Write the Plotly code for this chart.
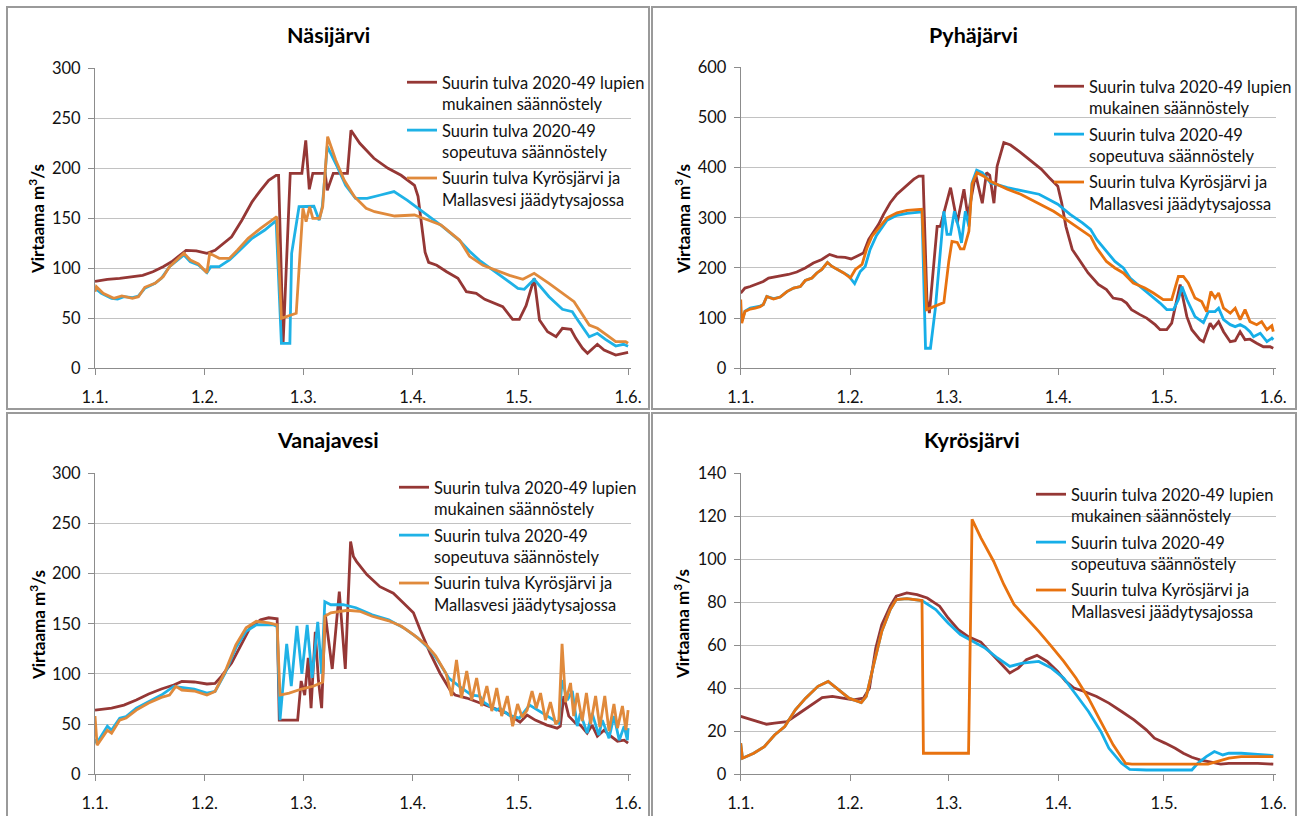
import plotly.graph_objects as go

# ---------------- data (day offset from 1 January, flow m3/s) ----------------
MONTH_STARTS = [0, 31, 59, 90, 120, 151]
MONTH_LABELS = ["1.1.", "1.2.", "1.3.", "1.4.", "1.5.", "1.6."]

SERIES_NAMES = [
    "Suurin tulva 2020-49 lupien<br>mukainen säännöstely",
    "Suurin tulva 2020-49<br>sopeutuva säännöstely",
    "Suurin tulva Kyrösjärvi ja<br>Mallasvesi jäädytysajossa",
]
PANEL_TITLES = ["Näsijärvi", "Pyhäjärvi", "Vanajavesi", "Kyrösjärvi"]

# Näsijärvi
NAS_LUPA_X = [0, 3.5, 7, 10.6, 13.5, 16.4, 19.3, 21.7, 24, 25.8, 28.7, 31.7, 34, 36.3, 38.7, 41.6, 44.5, 46.9, 49.2, 51.3, 52, 53.3, 55.3, 58.6, 59.7, 60.7, 61.7, 65.2, 65.8, 67.5, 71.5, 72.5, 75, 79, 83, 86.7, 90.5, 91.5, 92.7, 93.5, 94.5, 96.8, 99.6, 102.8, 105.2, 108, 110.4, 112.7, 115.5, 118.3, 120.2, 122.1, 124.4, 125.9, 128.2, 130.6, 132.4, 134.8, 136.2, 138.1, 139.5, 142.3, 144.2, 147.5, 149.3, 151]
NAS_LUPA_Y = [87, 89, 90, 91.5, 93, 96.5, 101.5, 106.5, 113, 118, 117.5, 115, 118, 125, 131.5, 148, 166.5, 178, 188, 193, 193, 26, 195, 195, 228, 179, 195, 195, 178, 195, 195, 238, 225, 210, 200, 193, 183, 172, 140, 116, 106, 103, 96.6, 90, 76.6, 75, 69, 65.6, 61.6, 49, 49, 62.6, 90, 48.3, 36.6, 31.6, 40, 39, 30, 20, 15, 24, 18.3, 13.3, 15, 16]
NAS_SOPE_X = [0, 1.8, 4.7, 6.4, 8.2, 10.6, 12.3, 14.1, 17, 18.8, 21.1, 25.2, 27, 29.3, 31.7, 32.8, 35.2, 38.1, 41, 44.5, 48.1, 51.3, 52.8, 55.2, 55.7, 57.8, 62, 63.5, 64.4, 65.8, 68.6, 71, 73.8, 77.1, 80.9, 84.7, 88.5, 94.1, 98.5, 103.2, 106.1, 108.9, 112.7, 116.5, 119.8, 121.6, 124.4, 128.6, 132.4, 135.2, 136.2, 140, 142.3, 144.6, 147.5, 149.7, 151]
NAS_SOPE_Y = [80, 75, 70, 69.3, 71.6, 70.6, 72.3, 80, 85, 90, 101.6, 113.3, 106.6, 103.3, 95.6, 101.6, 101.6, 108.3, 118, 130, 138.3, 147.6, 25, 25, 115, 161.6, 162, 148, 162, 222, 201.6, 183, 170, 170, 173.3, 176.7, 168, 153, 141.6, 128, 117, 108, 98, 88, 80, 79, 89, 71.6, 59, 56.6, 51, 31.6, 35, 29, 22.3, 24, 22]
NAS_JAAD_X = [0, 0.4, 2.3, 5.3, 7.6, 10.6, 12.3, 14.1, 17, 19.3, 21.1, 25.2, 27, 29.3, 31.7, 32.5, 35.2, 38.1, 40.4, 43.4, 46.9, 51.5, 52.8, 57, 58.9, 59.8, 60.8, 61.7, 63.6, 64.5, 65.9, 68.2, 70.6, 73.5, 76.8, 79.2, 84.9, 90.5, 94.3, 98, 103.3, 106.1, 109.9, 113.6, 117.4, 121.2, 124.4, 128.6, 132.4, 135.7, 140, 142.3, 145.1, 147.5, 150.3, 151]
NAS_JAAD_Y = [76.6, 81.6, 75, 70, 72.3, 70, 71.6, 81, 85, 91.6, 101.6, 115, 108.3, 104.3, 95.6, 115, 110, 110, 118.3, 130, 140, 151.6, 50, 55, 160, 146.6, 161.6, 150, 150, 161.6, 231.6, 208, 188, 171.6, 160, 156.6, 152.3, 153.3, 148.3, 143.3, 128, 112, 103, 98, 93, 89, 95, 85, 75, 66.6, 43.3, 40, 33, 26.6, 26.6, 25]

# Pyhäjärvi
PYH_LUPA_X = [0, 1.2, 2.7, 5, 6.4, 7.9, 10.2, 13.5, 15.9, 18.3, 20.6, 23, 25.2, 27.3, 29.6, 31.3, 32.8, 34.8, 36.3, 37.7, 39.1, 40.5, 42.4, 44.3, 46.7, 49.1, 50.5, 51.7, 52.8, 53.5, 55.7, 56.6, 59.5, 61.4, 63.3, 64.4, 66.6, 68.5, 69.7, 70.6, 71.8, 72.7, 74.6, 76.5, 79.4, 82.9, 85.2, 87.5, 89.9, 91, 92.2, 94, 96.2, 98.5, 101.4, 103.7, 105.6, 108, 109.4, 110.8, 113.2, 115.1, 117.5, 118.9, 120.8, 122.2, 124.6, 126.5, 127.9, 130.2, 131.2, 133.1, 134, 135.5, 136.9, 138.8, 140.2, 141.6, 143, 144.4, 146.3, 148.2, 150.1, 151]
PYH_LUPA_Y = [150, 160, 163, 170, 173, 180, 183, 187, 192, 200, 210, 217, 227, 222, 221, 218, 223, 230, 257, 273, 287, 307, 330, 347, 363, 377, 383, 383, 137, 110, 283, 283, 360, 290, 357, 303, 387, 329, 390, 385, 329, 403, 450, 445, 430, 410, 397, 380, 363, 330, 283, 237, 213, 190, 167, 157, 140, 137, 130, 117, 107, 100, 87, 77, 77, 90, 167, 103, 77, 57, 53, 90, 80, 93, 73, 53, 55, 73, 57, 58, 50, 43, 43, 40]
PYH_SOPE_X = [0, 0.4, 1.2, 2.7, 4.1, 5.5, 6.4, 7.4, 9.3, 11.2, 13.1, 15, 16.9, 18.3, 20.2, 21.6, 23, 24.6, 25.9, 27.3, 29.2, 30.5, 32.3, 33.9, 35.3, 36.7, 38.5, 41.5, 44.3, 47.2, 51.4, 52.4, 53.8, 55.2, 57.6, 58.5, 59.5, 60.6, 61.8, 62.6, 63.7, 64.7, 65.6, 66.9, 68.5, 70.8, 75.6, 79.4, 82.2, 84.6, 89.9, 93.4, 96.9, 99.2, 100.9, 103.3, 106.1, 108.5, 110.4, 113.2, 116, 118.9, 120.8, 122.7, 124.1, 125.1, 126.5, 128.8, 131.2, 132.6, 134.5, 135.5, 136.9, 138.8, 140.2, 141.6, 143, 144.4, 145.4, 147.3, 149.2, 150.6, 151]
PYH_SOPE_Y = [112, 95, 114, 120, 122, 124, 127, 143, 139, 142, 153, 160, 163, 175, 180, 190, 197, 211, 203, 197, 190, 185, 169, 193, 203, 237, 265, 295, 305, 309, 312, 40, 40, 120, 313, 267, 267, 313, 280, 250, 313, 283, 370, 395, 390, 370, 360, 355, 351, 347, 327, 307, 290, 277, 257, 236, 213, 200, 180, 163, 147, 130, 117, 117, 137, 163, 137, 103, 91, 113, 113, 120, 97, 87, 83, 87, 82, 73, 63, 70, 53, 60, 57]
PYH_JAAD_X = [0, 0.3, 1.2, 2.7, 4.1, 5.5, 6.4, 7.4, 9.3, 11.2, 13.1, 15, 16.9, 18.3, 20.2, 21.6, 23, 24.6, 25.9, 27.3, 29.2, 31.1, 32.5, 34.4, 35.8, 37.2, 39.1, 41.5, 44.3, 47.2, 51.4, 52.7, 57.6, 59, 59.9, 61.4, 62.3, 63.3, 64.7, 65.6, 67, 68.9, 70.8, 72.7, 75.6, 79.4, 84, 88.7, 92.2, 95.7, 99.2, 100.9, 103.7, 106.1, 108.5, 111.3, 114.6, 117, 119.8, 122.2, 124.1, 125.5, 126.9, 128.8, 130.7, 132.1, 133.3, 134.5, 135.5, 136.9, 138.8, 140.2, 141.6, 143, 144.4, 146.3, 147.7, 149.2, 150.6, 151]
PYH_JAAD_Y = [137, 90, 113, 118, 120, 123, 127, 143, 138, 142, 153, 160, 163, 175, 180, 190, 197, 211, 203, 197, 190, 180, 197, 207, 240, 263, 280, 300, 310, 315, 317, 117, 131, 213, 253, 251, 238, 238, 273, 367, 390, 383, 373, 367, 357, 347, 330, 313, 297, 280, 263, 240, 213, 200, 190, 170, 160, 150, 137, 137, 183, 183, 170, 140, 133, 113, 153, 140, 150, 120, 110, 120, 97, 117, 93, 87, 93, 77, 85, 73]

# Vanajavesi
VAN_LUPA_X = [0, 4.7, 8.2, 11.7, 15.2, 18.8, 22.3, 24.6, 28.1, 31.7, 34, 35.8, 38.7, 41.6, 43.9, 46.9, 49.2, 51.6, 52.2, 57.4, 58.4, 59.4, 60.4, 61.2, 62.4, 63.3, 64.2, 65.2, 67.2, 69.2, 70.9, 72.4, 73.2, 74.1, 77, 80.7, 84.5, 87.3, 90.2, 92.1, 94.9, 97.7, 100.6, 102, 105.3, 109.1, 112.8, 116.6, 120.4, 122.4, 124.7, 128, 130.9, 131.8, 132.8, 134.2, 136.1, 137.5, 139.4, 140.8, 142.3, 144.2, 146.1, 148, 149.9, 151]
VAN_LUPA_Y = [64, 66, 69, 74, 80, 85, 89, 92.6, 92, 90, 90.6, 97.6, 111, 131, 146, 154, 156, 155, 54, 54, 93, 79, 116, 66, 142, 93, 66, 160, 105, 182, 105, 232, 217, 212, 199, 187, 180.5, 171, 161, 144, 121, 101, 84, 79, 76, 71, 66, 61, 52, 59, 54, 49, 46, 48, 78, 58, 51, 49, 41, 49, 38, 44, 38, 33, 34, 31]
VAN_SOPE_X = [0, 0.5, 3.5, 4.7, 7, 8.8, 11.7, 15.2, 18.8, 22.3, 24.6, 28.1, 31.7, 34, 36.9, 39.9, 42.8, 45.7, 50.4, 51.6, 52.4, 54.3, 55.6, 57.2, 58.6, 60.1, 61.5, 63.1, 64.2, 65.1, 66.8, 70.3, 73.9, 76.2, 78.5, 83.2, 87.9, 91.4, 95, 97.3, 100.2, 103.2, 106.7, 109, 110.2, 113.7, 114.7, 117.2, 120.2, 123.1, 125.4, 127.8, 130.1, 131.4, 132.3, 133.8, 135.2, 136.6, 137.5, 139.4, 140.8, 142.7, 143.7, 145.6, 147, 148.5, 149.9, 150.8, 151]
VAN_SOPE_Y = [35, 31, 48, 44, 56, 57.6, 66, 72.6, 79, 87.6, 86.6, 85, 81, 82.6, 101, 126, 142.5, 149, 149, 147.5, 54, 130, 88, 148, 100, 149, 96, 152, 100, 172, 169, 169, 166, 162.5, 159, 154, 145, 136, 124, 112.5, 96, 87.6, 79, 78, 71.6, 64, 66, 59, 56, 69, 64, 59, 54, 51, 94, 74, 83, 48, 61, 41, 61, 39, 54, 36, 58, 34, 48, 34, 46]
VAN_JAAD_X = [0, 0.6, 3.5, 4.7, 7, 8.8, 11.7, 15.2, 18.8, 21.1, 22.9, 24.6, 28.1, 31.7, 34, 36.9, 39.9, 42.8, 45.7, 49.2, 51.6, 52.4, 55, 58.5, 62, 64.5, 65.1, 66.8, 71.5, 75, 78.5, 83.2, 86.8, 90.3, 93.8, 96.5, 99.5, 101, 102.4, 103.8, 105.3, 106.7, 108.1, 109.5, 111, 112.4, 113.8, 115.2, 116.8, 118.3, 119.7, 121, 122.4, 123.8, 125, 126.2, 127.6, 129, 130.5, 131.4, 132.3, 133.3, 134.7, 135.6, 136.6, 138, 139.2, 140.4, 141.8, 143, 144.4, 145.6, 147, 148, 149.4, 150.4, 151]
VAN_JAAD_Y = [58, 29, 44, 41, 54, 56, 64, 71, 76.6, 79, 87.6, 84, 83, 79, 82.6, 102.6, 129, 146, 152.5, 151, 149, 79, 81, 85, 88, 92, 157.5, 161, 163.5, 162.5, 157.5, 153, 147.5, 139, 129, 118, 100, 78, 114, 76, 103, 74, 96, 68, 88, 63, 86, 58, 78, 48, 70, 57, 64, 83, 66, 81, 54, 72, 50, 54, 130, 72, 91, 58, 81, 53, 81, 50, 78, 47, 78, 43, 70, 46, 68, 44, 64]

# Kyrösjärvi
KYR_LUPA_X = [0, 3.7, 7.3, 9.6, 13.1, 16.6, 20.1, 23.1, 26, 28.9, 31.9, 34.8, 36.5, 38.3, 40, 42.4, 44.1, 47.1, 50, 52.9, 56.4, 58.8, 61.7, 64.6, 68.1, 70.5, 74, 76.3, 78.7, 81, 84, 86.9, 89.8, 92.2, 94.5, 97.4, 100.9, 104.4, 108, 111.5, 115, 117.3, 120.3, 123.2, 125.5, 127.9, 130.2, 133.1, 136.1, 138.4, 146.6, 151]
KYR_LUPA_Y = [26.9, 24.9, 23.3, 23.8, 24.5, 28.4, 32.3, 35.7, 36.2, 35.4, 34.6, 35.4, 40, 58.7, 69.6, 78.2, 82.8, 84.4, 83.6, 82, 78.2, 72.7, 67.3, 63.9, 61.5, 57.2, 51, 47.1, 49.4, 53.3, 55.3, 52.5, 47.9, 43.2, 40.1, 38.5, 36.2, 33.1, 29.2, 25.3, 20.7, 16.8, 14.5, 12.1, 9.8, 7.9, 6.7, 5.6, 4.7, 5.1, 5.1, 4.7]
KYR_SOPE_X = [0, 0.5, 3.7, 6.7, 9.6, 12.5, 15.5, 18.4, 21.9, 24.8, 27.8, 30.7, 34.2, 35.6, 37.7, 40, 42.4, 44.1, 47.1, 51.4, 55.3, 58.8, 62.3, 65.8, 69.3, 72.8, 76.3, 79.9, 84.5, 88.1, 91.6, 95.1, 98.6, 102.1, 104.4, 108, 110.3, 115, 127.9, 129.6, 132, 134.3, 136.7, 138.4, 141.9, 146.6, 151]
KYR_SOPE_Y = [14.5, 7.5, 9.8, 12.9, 18.3, 22.2, 30, 35.4, 40.9, 43.2, 39.3, 35.4, 33.4, 36.2, 51, 66.5, 76.6, 81.3, 81.7, 80.8, 76.6, 70.4, 65, 61.8, 58.7, 54.1, 50.2, 51.7, 52.5, 49.4, 44.7, 37, 29.2, 19.9, 12.1, 5.1, 2.3, 2, 2, 5.1, 8.2, 10.6, 9, 9.8, 9.8, 9.3, 8.7]
KYR_JAAD_X = [0, 0.5, 3.7, 6.7, 9.6, 12.5, 15.5, 18.4, 21.9, 24.8, 27.8, 30.7, 34.2, 35.6, 37.7, 40, 42.4, 44.1, 47.1, 51.4, 51.8, 64.6, 65.6, 68.1, 71.7, 74.6, 77.5, 81, 84.5, 88.1, 91.6, 95.1, 98.6, 102.1, 105.6, 109.1, 110.9, 132.5, 134.9, 138.4, 141.9, 151]
KYR_JAAD_Y = [14.5, 7.5, 9.8, 12.9, 18.3, 22.2, 30, 35.4, 40.9, 43.2, 39.3, 35.4, 33.4, 36.2, 51, 66.5, 76.6, 81.3, 81.7, 80.8, 9.8, 9.8, 118.6, 110, 99.1, 88.3, 79, 72.7, 66.5, 59.5, 52.5, 44.7, 35.4, 24.5, 13.7, 5.1, 4.7, 4.7, 5.9, 7.5, 8.2, 8.2]

Y_MAX = [300, 600, 300, 140]
Y_DTICK = [50, 100, 50, 20]

# ---------------- layout / styling ----------------
W, H = 1298, 816
FONT = "Lato"
BROWN = "#953735"
BLUE_L, BLUE_R = "#1FB2E6", "#16AEE8"
ORANGE_L, ORANGE_R = "#E08A3C", "#E8720F"
AXIS_GREY = "#8C8C8C"
GRID_GREY = "#C2C2C2"


def px_x(p):
    return p / W


def px_y(p):
    return 1 - p / H


# plot-area pixel boxes: (left, right, top, bottom)
BOXES = [
    (95.0, 630.9, 68.3, 368.3),
    (740.7, 1276.1, 67.3, 368.3),
    (95.0, 630.9, 473.3, 774.3),
    (740.7, 1276.1, 473.3, 774.3),
]
TITLE_POS = [(328, 35), (973, 35), (328, 440), (972, 440)]
YTITLE_POS = [(37, 219), (683, 219), (37, 625), (681, 624)]
LEGEND_POS = [(402, 65), (1049, 69), (394, 470), (1031, 477)]
PANEL_FRAMES = [(7, 649, 7, 409), (652, 1296, 7, 409), (7, 649, 413, 830), (652, 1296, 413, 830)]

panels = [
    (NAS_LUPA_X, NAS_LUPA_Y, NAS_SOPE_X, NAS_SOPE_Y, NAS_JAAD_X, NAS_JAAD_Y),
    (PYH_LUPA_X, PYH_LUPA_Y, PYH_SOPE_X, PYH_SOPE_Y, PYH_JAAD_X, PYH_JAAD_Y),
    (VAN_LUPA_X, VAN_LUPA_Y, VAN_SOPE_X, VAN_SOPE_Y, VAN_JAAD_X, VAN_JAAD_Y),
    (KYR_LUPA_X, KYR_LUPA_Y, KYR_SOPE_X, KYR_SOPE_Y, KYR_JAAD_X, KYR_JAAD_Y),
]

fig = go.Figure()
layout = dict(
    width=W, height=H,
    margin=dict(l=0, r=0, t=0, b=0, pad=0),
    paper_bgcolor="white", plot_bgcolor="white",
    font=dict(family=FONT, size=16.5, color="#111111"),
    showlegend=True,
    annotations=[], shapes=[],
)

for i, (lx, ly, sx, sy, jx, jy) in enumerate(panels):
    n = "" if i == 0 else str(i + 1)
    xa, ya = "x" + n, "y" + n
    leg = "legend" + n
    left_col = i in (0, 2)
    colors = [BROWN, BLUE_L if left_col else BLUE_R, ORANGE_L if left_col else ORANGE_R]
    for k, (xs, ys) in enumerate([(lx, ly), (sx, sy), (jx, jy)]):
        fig.add_trace(go.Scatter(
            x=xs, y=ys, mode="lines", name=SERIES_NAMES[k],
            line=dict(color=colors[k], width=2.8),
            xaxis=xa, yaxis=ya, legend=leg, legendgroup=f"p{i}s{k}",
            hoverinfo="skip",
        ))
    l, r, t, b = BOXES[i]
    layout["xaxis" + n] = dict(
        domain=[px_x(l), px_x(r)], anchor=ya, range=[0, 151.8],
        tickmode="array", tickvals=MONTH_STARTS, ticktext=MONTH_LABELS,
        showgrid=False, zeroline=False, showline=True, linecolor=AXIS_GREY, linewidth=1,
        ticks="outside", ticklen=6, tickcolor=AXIS_GREY, ticklabelstandoff=8,
        tickfont=dict(family=FONT, size=16.5, color="#111111"), fixedrange=True,
        automargin=False,
    )
    layout["yaxis" + n] = dict(
        domain=[px_y(b), px_y(t)], anchor=xa, range=[0, Y_MAX[i]],
        dtick=Y_DTICK[i], showgrid=True, gridcolor=GRID_GREY, gridwidth=1,
        zeroline=False, showline=True, linecolor=AXIS_GREY, linewidth=1,
        ticks="outside", ticklen=6, tickcolor=AXIS_GREY, ticklabelstandoff=4,
        tickfont=dict(family=FONT, size=16.5, color="#111111"), fixedrange=True,
        automargin=False,
    )
    lgx, lgy = LEGEND_POS[i]
    layout[leg] = dict(
        x=px_x(lgx), y=px_y(lgy), xanchor="left", yanchor="top",
        bgcolor="rgba(0,0,0,0)", borderwidth=0, valign="top",
        itemwidth=30, tracegroupgap=2,
        font=dict(family=FONT, size=16.5, color="#111111"),
    )
    tx, ty = TITLE_POS[i]
    layout["annotations"].append(dict(
        text="<b>" + PANEL_TITLES[i] + "</b>", x=px_x(tx), y=px_y(ty),
        xref="paper", yref="paper", showarrow=False,
        xanchor="center", yanchor="middle",
        font=dict(family=FONT, size=21.5, color="#000000"),
    ))
    yx, yy = YTITLE_POS[i]
    layout["annotations"].append(dict(
        text="<b>Virtaama m<sup>3</sup>/s</b>", x=px_x(yx), y=px_y(yy),
        xref="paper", yref="paper", showarrow=False, textangle=-90,
        xanchor="center", yanchor="middle",
        font=dict(family=FONT, size=17, color="#000000"),
    ))
    fx0, fx1, fy0, fy1 = PANEL_FRAMES[i]
    layout["shapes"].append(dict(
        type="rect", xref="paper", yref="paper",
        x0=px_x(fx0), x1=px_x(fx1), y0=px_y(fy1), y1=px_y(fy0),
        line=dict(color="#9A9A9A", width=2), fillcolor="rgba(0,0,0,0)", layer="below",
    ))

fig.update_layout(**layout)
fig.write_html(
    "out.html",
    config={"displayModeBar": False},
    post_script="document.body.style.margin='0';document.body.style.overflow='hidden';",
)
